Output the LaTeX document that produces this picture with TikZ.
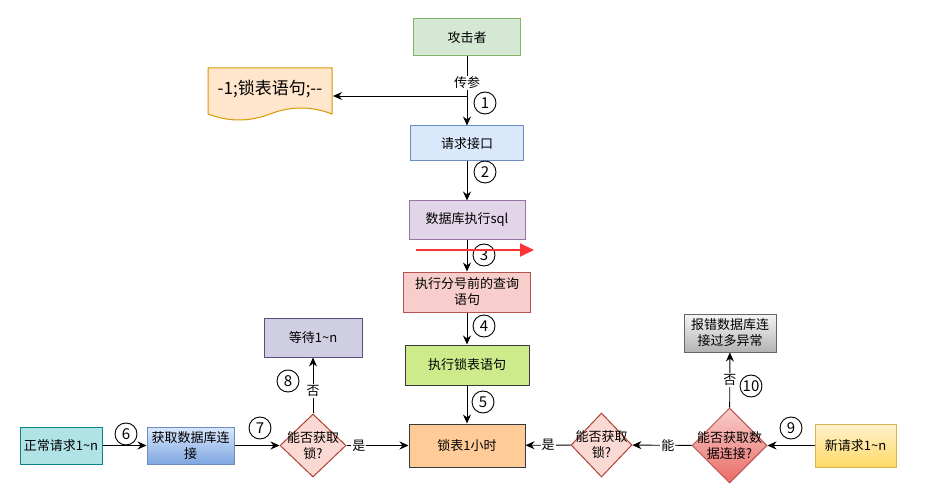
\documentclass[tikz,border=0pt]{standalone}
\usepackage{fontspec}
\setmainfont{Noto Sans CJK SC}
\usetikzlibrary{shapes.geometric,arrows.meta}
\definecolor{gfill}{HTML}{D5E8D4}\definecolor{gline}{HTML}{82B366}
\definecolor{bfill}{HTML}{DAE8FC}\definecolor{bline}{HTML}{6C8EBF}\definecolor{bdark}{HTML}{7EA6E0}
\definecolor{pfill}{HTML}{E1D5E7}\definecolor{pline}{HTML}{9673A6}
\definecolor{rfill}{HTML}{F8CECC}\definecolor{rline}{HTML}{B85450}\definecolor{rdark}{HTML}{EA6B66}
\definecolor{lfill}{HTML}{CDEB8B}\definecolor{dline}{HTML}{36393D}
\definecolor{ofill}{HTML}{FFCC99}
\definecolor{tfill}{HTML}{B0E3E6}\definecolor{tline}{HTML}{0E8088}
\definecolor{wfill}{HTML}{D0CEE2}\definecolor{wline}{HTML}{56517E}
\definecolor{dfill}{HTML}{FAD9D5}\definecolor{dmline}{HTML}{AE4132}
\definecolor{docfill}{HTML}{FFE6CC}\definecolor{docline}{HTML}{D79B00}
\definecolor{gyl}{HTML}{F5F5F5}\definecolor{gyd}{HTML}{B3B3B3}\definecolor{gyline}{HTML}{666666}
\definecolor{yl}{HTML}{FFF2CC}\definecolor{yd}{HTML}{FFD966}\definecolor{yline}{HTML}{D6B656}
\definecolor{redarrow}{HTML}{FF3333}
\begin{document}
\begin{tikzpicture}[x=1pt,y=-1pt,font=\fontsize{13}{16}\selectfont,
  box/.style={draw,line width=1pt,align=center,inner sep=0pt},
  dia/.style={diamond,draw,line width=1pt,inner sep=0pt,aspect=1},
  arr/.style={line width=0.9pt,-{Stealth[length=9pt,width=8pt]}},
  num/.style={circle,draw,line width=0.9pt,minimum size=22pt,inner sep=0pt,font=\fontsize{15}{15}\selectfont},
  lab/.style={fill=white,inner sep=1pt}]
\useasboundingbox[fill=white] (0,0) rectangle (951,500);

% column
\node[box,fill=gfill,draw=gline,minimum width=107,minimum height=37] (att) at (467,37.5) {攻击者};
\node[box,fill=bfill,draw=bline,minimum width=113,minimum height=35] (req) at (467,143.5) {请求接口};
\node[box,fill=pfill,draw=pline,minimum width=116,minimum height=38] (sql) at (467,220) {数据库执行sql};
\node[box,fill=rfill,draw=rline,minimum width=127,minimum height=40] (semi) at (467,292) {执行分号前的查询\\语句};
\node[box,fill=lfill,draw=dline,minimum width=124,minimum height=40] (lock) at (467,365) {执行锁表语句};
\node[box,fill=ofill,draw=dline,minimum width=116,minimum height=43] (locked) at (467,445.5) {锁表1小时};

% document
\draw[fill=docfill,draw=docline,line width=1pt] (208,68) -- (332,68) -- (332,114)
  .. controls (311.3,106) and (290.7,106) .. (270,114)
  .. controls (249.3,122) and (228.7,122) .. (208,114) -- cycle;
\node[font=\fontsize{17}{20}\selectfont] (doc) at (270,89) {-1;锁表语句;-{}-};
\coordinate (docR) at (333,96);
\coordinate (split) at (467,96);

% left row
\node[box,fill=tfill,draw=tline,minimum width=82,minimum height=37] (normal) at (61,445.5) {正常请求1\textasciitilde n};
\node[box,top color=bfill,bottom color=bdark,draw=bline,minimum width=87,minimum height=37] (getconn) at (190.5,445.5) {获取数据库连\\接};
\node[dia,fill=dfill,draw=dmline,minimum width=66,minimum height=63] (d1) at (313,445.5) {};
\node[align=center] at (d1) {能否获取\\锁?};
\node[box,fill=wfill,draw=wline,minimum width=98,minimum height=39] (wait) at (313,337.5) {等待1\textasciitilde n};

% right row
\node[dia,fill=dfill,draw=dmline,minimum width=61,minimum height=64] (d2) at (601.5,445) {};
\node[align=center] at (d2) {能否获取\\锁?};
\node[dia,top color=rfill,bottom color=rdark,draw=rline,minimum width=75,minimum height=75] (d3) at (729.5,445.5) {};
\node[align=center] at (d3) {能否获取数\\据连接?};
\node[box,top color=gyl,bottom color=gyd,draw=gyline,minimum width=92,minimum height=38] (err) at (730,333) {报错数据库连\\接过多异常};
\node[box,top color=yl,bottom color=yd,draw=yline,minimum width=81,minimum height=43] (newreq) at (855.5,445.5) {新请求1\textasciitilde n};

% edges
\draw[arr] (att) -- node[lab,pos=0.38] {传参} (req);
\draw[arr] (split) -- (docR);
\draw[arr] (req) -- (sql);
\draw[arr] (sql) -- (semi);
\draw[arr] (semi) -- (lock);
\draw[arr] (lock) -- (locked);
\draw[arr] (normal) -- (getconn);
\draw[arr] (getconn) -- (d1);
\draw[arr] (d1) -- node[lab,pos=0.2] {是} (locked);
\draw[arr] (d1) -- node[lab,pos=0.4] {否} (wait);
\draw[arr] (newreq) -- (d3);
\draw[arr] (d3) -- node[lab,pos=0.4] {能} (d2);
\draw[arr] (d2) -- node[lab,pos=0.5] {是} (locked);
\draw[arr] (d3) -- node[lab,pos=0.5] {否} (err);

% numbers
\node[num] (n1) at (485,103) {1};
\node[num] (n2) at (485,172) {2};
\node[num] (n3) at (484,255) {3};
\node[num] (n4) at (484,326) {4};
\node[num] (n5) at (483,402) {5};
\node[num] (n6) at (126,434) {6};
\node[num] (n7) at (260,428) {7};
\node[num] (n8) at (288,381) {8};
\node[num] (n9) at (791,428) {9};
\node[num] (n10) at (751,386) {10};

% red arrow
\coordinate (ra) at (416,250);
\coordinate (rb) at (534,250);
\draw[redarrow,line width=2pt,-{Triangle[length=14pt,width=13pt]}] (ra) -- (rb);
\end{tikzpicture}
\end{document}
